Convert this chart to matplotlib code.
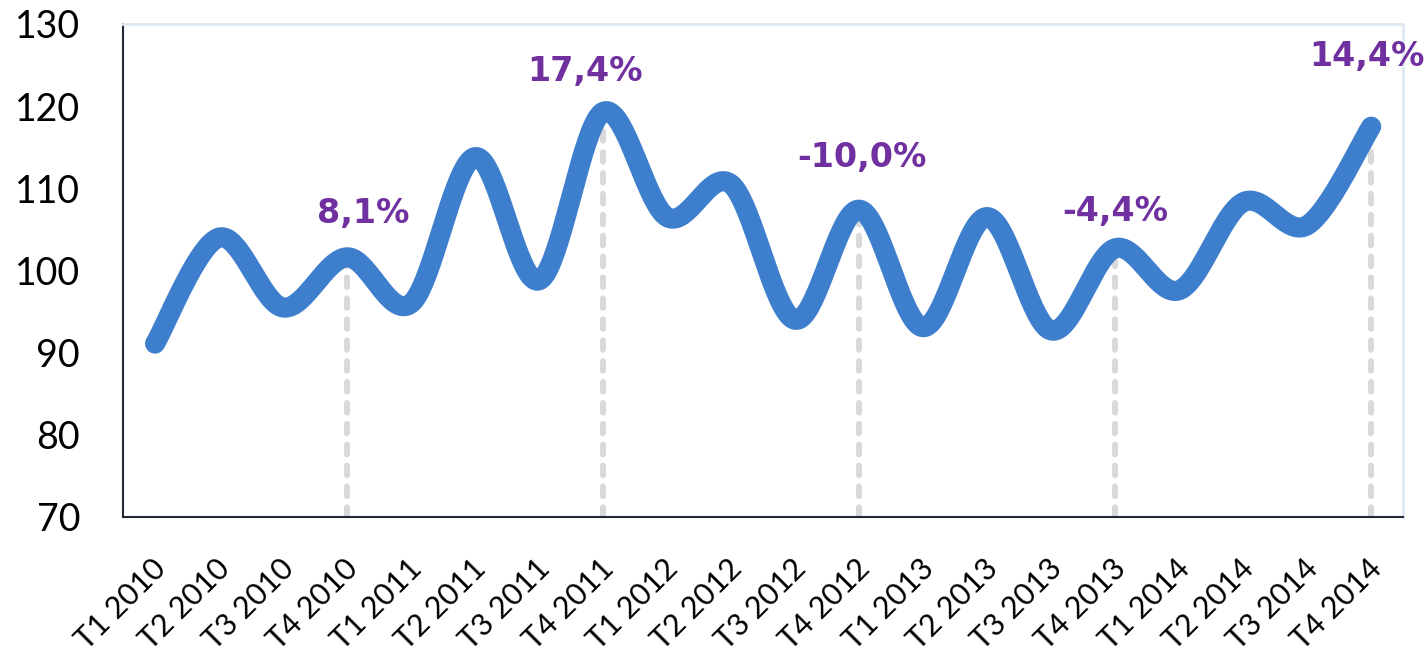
import numpy as np
import matplotlib.pyplot as plt
from matplotlib.transforms import ScaledTranslation

# quarterly index values
quarters = ['T1 2010', 'T2 2010', 'T3 2010', 'T4 2010',
            'T1 2011', 'T2 2011', 'T3 2011', 'T4 2011',
            'T1 2012', 'T2 2012', 'T3 2012', 'T4 2012',
            'T1 2013', 'T2 2013', 'T3 2013', 'T4 2013',
            'T1 2014', 'T2 2014', 'T3 2014', 'T4 2014']
values = [91.1, 104.0, 95.5, 101.6,
          96.0, 113.8, 98.8, 119.3,
          106.5, 110.5, 94.0, 107.4,
          93.1, 106.5, 92.7, 102.7,
          97.6, 108.3, 105.5, 117.5]

# year-on-year change labels on the T4 points
label_idx = [3, 7, 11, 15, 19]
label_txt = ['8,1%', '17,4%', '-10,0%', '-4,4%', '14,4%']
label_off = [(16, 44), (-18, 40), (3, 52), (0, 37), (-4, 70)]  # pixels


def smooth(x, y, n=40):
    """Catmull-Rom style smoothing like Excel's smoothed line."""
    x = np.asarray(x, float)
    y = np.asarray(y, float)
    px = np.concatenate([[x[0]], x, [x[-1]]])
    py = np.concatenate([[y[0]], y, [y[-1]]])
    xs, ys = [], []
    t = np.linspace(0, 1, n)
    for i in range(1, len(px) - 2):
        p0 = np.array([px[i], py[i]])
        p3 = np.array([px[i + 1], py[i + 1]])
        p1 = p0 + (p3 - np.array([px[i - 1], py[i - 1]])) / 6
        p2 = p3 - (np.array([px[i + 2], py[i + 2]]) - p0) / 6
        b = ((1 - t) ** 3)[:, None] * p0 + (3 * (1 - t) ** 2 * t)[:, None] * p1 \
            + (3 * (1 - t) * t ** 2)[:, None] * p2 + (t ** 3)[:, None] * p3
        xs.extend(b[:, 0])
        ys.extend(b[:, 1])
    return np.array(xs), np.array(ys)


plt.rcParams['font.family'] = ['Lato', 'DejaVu Sans']

fig = plt.figure(figsize=(14.26, 6.59), dpi=100)
ax = fig.add_axes([0.0863, 0.2155, 0.984 - 0.0863, 0.9636 - 0.2155])

x = np.arange(len(quarters))
sx, sy = smooth(x, values)

# drop lines
for i in label_idx:
    ax.plot([x[i], x[i]], [70, values[i]], color='#d9d9d9', lw=4.3,
            linestyle=(0, (1.6, 1.9)), dash_capstyle='round', zorder=1)

ax.plot(sx, sy, color='#3e7fcd', lw=14.5, solid_capstyle='round', zorder=2)

for i, txt, (dx, dy) in zip(label_idx, label_txt, label_off):
    ax.annotate(txt, (x[i], values[i]), xytext=(dx, dy), textcoords='offset pixels',
                ha='center', va='center', fontsize=24, fontweight='bold',
                color='#7030a0', family='DejaVu Sans', annotation_clip=False)

ax.set_xlim(-0.5, len(quarters) - 0.5)
ax.set_ylim(70, 130)
ax.set_yticks(range(70, 131, 10))
ax.tick_params(axis='y', length=0, pad=31, labelsize=27)
ax.tick_params(axis='x', length=0, pad=0, labelsize=22)
ax.set_xticks(x)
ax.set_xticklabels(quarters, rotation=45, ha='right', va='top', rotation_mode='anchor')
shift = ScaledTranslation(-4 / 100, -37 / 100, fig.dpi_scale_trans)
for lab in ax.get_xticklabels():
    lab.set_transform(lab.get_transform() + shift)

for s in ['left', 'bottom']:
    ax.spines[s].set_color('#1f2a38')
    ax.spines[s].set_linewidth(1.5)
for s in ['top', 'right']:
    ax.spines[s].set_color('#dfe8f3')
    ax.spines[s].set_linewidth(2)

fig.savefig('out.png', dpi=100)
